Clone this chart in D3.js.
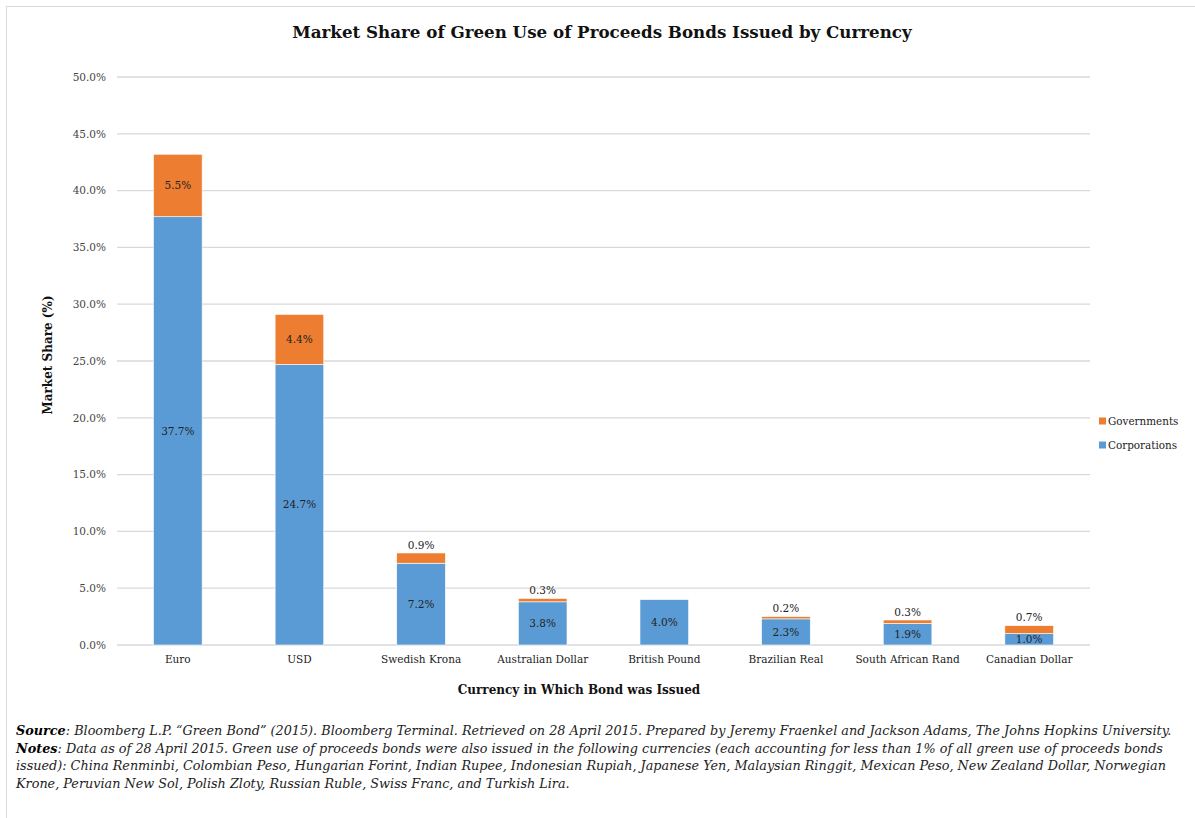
<!DOCTYPE html>
<html>
<head>
<meta charset="utf-8">
<script src="https://cdn.jsdelivr.net/npm/d3@7"></script>
<style>
  body { margin: 0; background: #fff; }
  text { font-family: "DejaVu Serif", Georgia, serif; }
</style>
</head>
<body>
<div id="chart"></div>
<script>
// data
var currencies = ["Euro", "USD", "Swedish Krona", "Australian Dollar", "British Pound",
                  "Brazilian Real", "South African Rand", "Canadian Dollar"];
var corporations = [37.7, 24.7, 7.2, 3.8, 4.0, 2.3, 1.9, 1.0];
var governments  = [5.5, 4.4, 0.9, 0.3, 0.0, 0.2, 0.3, 0.7];
var yTicks = [0, 5, 10, 15, 20, 25, 30, 35, 40, 45, 50];
var seriesNames = ["Governments", "Corporations"];
var seriesColors = ["#ED7D31", "#5B9BD5"];

var noteLines = [
  [["Source", true], [": Bloomberg L.P. \u201cGreen Bond\u201d (2015). Bloomberg Terminal. Retrieved on 28 April 2015. Prepared by Jeremy Fraenkel and Jackson Adams, The Johns Hopkins University.", false]],
  [["Notes", true], [": Data as of 28 April 2015. Green use of proceeds bonds were also issued in the following currencies (each accounting for less than 1% of all green use of proceeds bonds", false]],
  [["issued): China Renminbi, Colombian Peso, Hungarian Forint, Indian Rupee, Indonesian Rupiah, Japanese Yen, Malaysian Ringgit, Mexican Peso, New Zealand Dollar, Norwegian", false]],
  [["Krone, Peruvian New Sol, Polish Zloty, Russian Ruble, Swiss Franc, and Turkish Lira.", false]]
];

var chart_width = 1195;
var chart_height = 818;
var plotLeft = 117, plotRight = 1090, plotTop = 77, plotBottom = 645;

var svg = d3.select('#chart')
  .append('svg')
  .attr('width', chart_width)
  .attr('height', chart_height);

// outer frame
svg.append('rect')
  .attr('x', 6.5).attr('y', 6.5)
  .attr('width', chart_width + 10).attr('height', chart_height + 10)
  .attr('fill', 'none')
  .attr('stroke', '#d9d9d9');

var data = currencies.map(function(c, i) {
  return { name: c, corp: corporations[i], gov: governments[i] };
});

var x_scale = d3.scaleBand()
  .domain(currencies)
  .range([plotLeft, plotRight])
  .paddingInner(0.6)
  .paddingOuter(0.3);

var y_scale = d3.scaleLinear()
  .domain([0, 50])
  .range([plotBottom, plotTop]);

// gridlines
svg.append('g')
  .selectAll('line')
  .data(yTicks)
  .enter()
  .append('line')
  .attr('x1', plotLeft).attr('x2', plotRight)
  .attr('y1', function(d) { return y_scale(d); })
  .attr('y2', function(d) { return y_scale(d); })
  .attr('stroke', '#d9d9d9')
  .attr('stroke-width', 1.3);

// y axis labels
var yAxis = d3.axisLeft(y_scale)
  .tickValues(yTicks)
  .tickSize(0)
  .tickPadding(11)
  .tickFormat(function(d) { return d.toFixed(1) + '%'; });

var gy = svg.append('g')
  .attr('transform', 'translate(' + plotLeft + ',0)')
  .call(yAxis);
gy.select('.domain').remove();
gy.selectAll('text')
  .attr('font-family', '"DejaVu Serif", serif')
  .attr('font-size', 10.5)
  .attr('fill', '#444');

// x axis labels
var xAxis = d3.axisBottom(x_scale).tickSize(0).tickPadding(11);
var gx = svg.append('g')
  .attr('transform', 'translate(0,' + plotBottom + ')')
  .call(xAxis);
gx.select('.domain').remove();
gx.selectAll('text')
  .attr('font-family', '"DejaVu Serif", serif')
  .attr('font-size', 10.5)
  .attr('fill', '#222');

// bars
var bars = svg.append('g');
bars.selectAll('rect.corp')
  .data(data)
  .enter()
  .append('rect')
  .attr('class', 'corp')
  .attr('x', function(d) { return x_scale(d.name); })
  .attr('width', x_scale.bandwidth())
  .attr('y', function(d) { return y_scale(d.corp); })
  .attr('height', function(d) { return y_scale(0) - y_scale(d.corp); })
  .attr('fill', seriesColors[1])
  .attr('stroke', '#fff')
  .attr('stroke-width', 0.6);

bars.selectAll('rect.gov')
  .data(data.filter(function(d) { return d.gov > 0; }))
  .enter()
  .append('rect')
  .attr('class', 'gov')
  .attr('x', function(d) { return x_scale(d.name); })
  .attr('width', x_scale.bandwidth())
  .attr('y', function(d) { return y_scale(d.corp + d.gov); })
  .attr('height', function(d) { return y_scale(d.corp) - y_scale(d.corp + d.gov); })
  .attr('fill', seriesColors[0])
  .attr('stroke', '#fff')
  .attr('stroke-width', 0.6);

// labels
var labels = svg.append('g')
  .attr('font-size', 10.5)
  .attr('fill', '#222')
  .attr('text-anchor', 'middle');

labels.selectAll('text.corp')
  .data(data)
  .enter()
  .append('text')
  .attr('x', function(d) { return x_scale(d.name) + x_scale.bandwidth() / 2; })
  .attr('y', function(d) { return (y_scale(0) + y_scale(d.corp)) / 2; })
  .attr('dy', '0.35em')
  .text(function(d) { return d.corp.toFixed(1) + '%'; });

labels.selectAll('text.gov')
  .data(data.filter(function(d) { return d.gov > 0; }))
  .enter()
  .append('text')
  .attr('x', function(d) { return x_scale(d.name) + x_scale.bandwidth() / 2; })
  .attr('y', function(d) {
    if (d.gov >= 1) return (y_scale(d.corp) + y_scale(d.corp + d.gov)) / 2;
    return y_scale(d.corp + d.gov) - 8;
  })
  .attr('dy', '0.35em')
  .text(function(d) { return d.gov.toFixed(1) + '%'; });

// title
svg.append('text')
  .attr('x', 602).attr('y', 38)
  .attr('text-anchor', 'middle')
  .attr('font-size', 16.7)
  .attr('font-weight', 'bold')
  .attr('fill', '#111')
  .text('Market Share of Green Use of Proceeds Bonds Issued by Currency');

// axis titles
svg.append('text')
  .attr('transform', 'translate(52,' + 355 + ') rotate(-90)')
  .attr('text-anchor', 'middle')
  .attr('font-size', 12)
  .attr('font-weight', 'bold')
  .attr('fill', '#111')
  .text('Market Share (%)');

svg.append('text')
  .attr('x', 579).attr('y', 694)
  .attr('text-anchor', 'middle')
  .attr('font-size', 12)
  .attr('font-weight', 'bold')
  .attr('fill', '#111')
  .text('Currency in Which Bond was Issued');

// legend
var legend = svg.append('g')
  .selectAll('g')
  .data(seriesNames)
  .enter()
  .append('g')
  .attr('transform', function(d, i) { return 'translate(1099,' + (421 + i * 24) + ')'; });
legend.append('rect')
  .attr('x', 0).attr('y', -3.5)
  .attr('width', 7).attr('height', 7)
  .attr('fill', function(d, i) { return seriesColors[i]; });
legend.append('text')
  .attr('x', 9).attr('dy', '0.35em')
  .attr('font-size', 10.4)
  .attr('fill', '#222')
  .text(function(d) { return d; });

// source and notes
var notes = svg.append('g')
  .attr('font-size', 12.8)
  .attr('font-style', 'italic')
  .attr('fill', '#222');
notes.selectAll('text')
  .data(noteLines)
  .enter()
  .append('text')
  .attr('x', 16)
  .attr('y', function(d, i) { return 735 + i * 17.5; })
  .each(function(parts) {
    var t = d3.select(this);
    parts.forEach(function(p) {
      t.append('tspan')
        .attr('font-weight', p[1] ? 'bold' : 'normal')
        .attr('fill', p[1] ? '#000' : '#222')
        .text(p[0]);
    });
  });
</script>
</body>
</html>
